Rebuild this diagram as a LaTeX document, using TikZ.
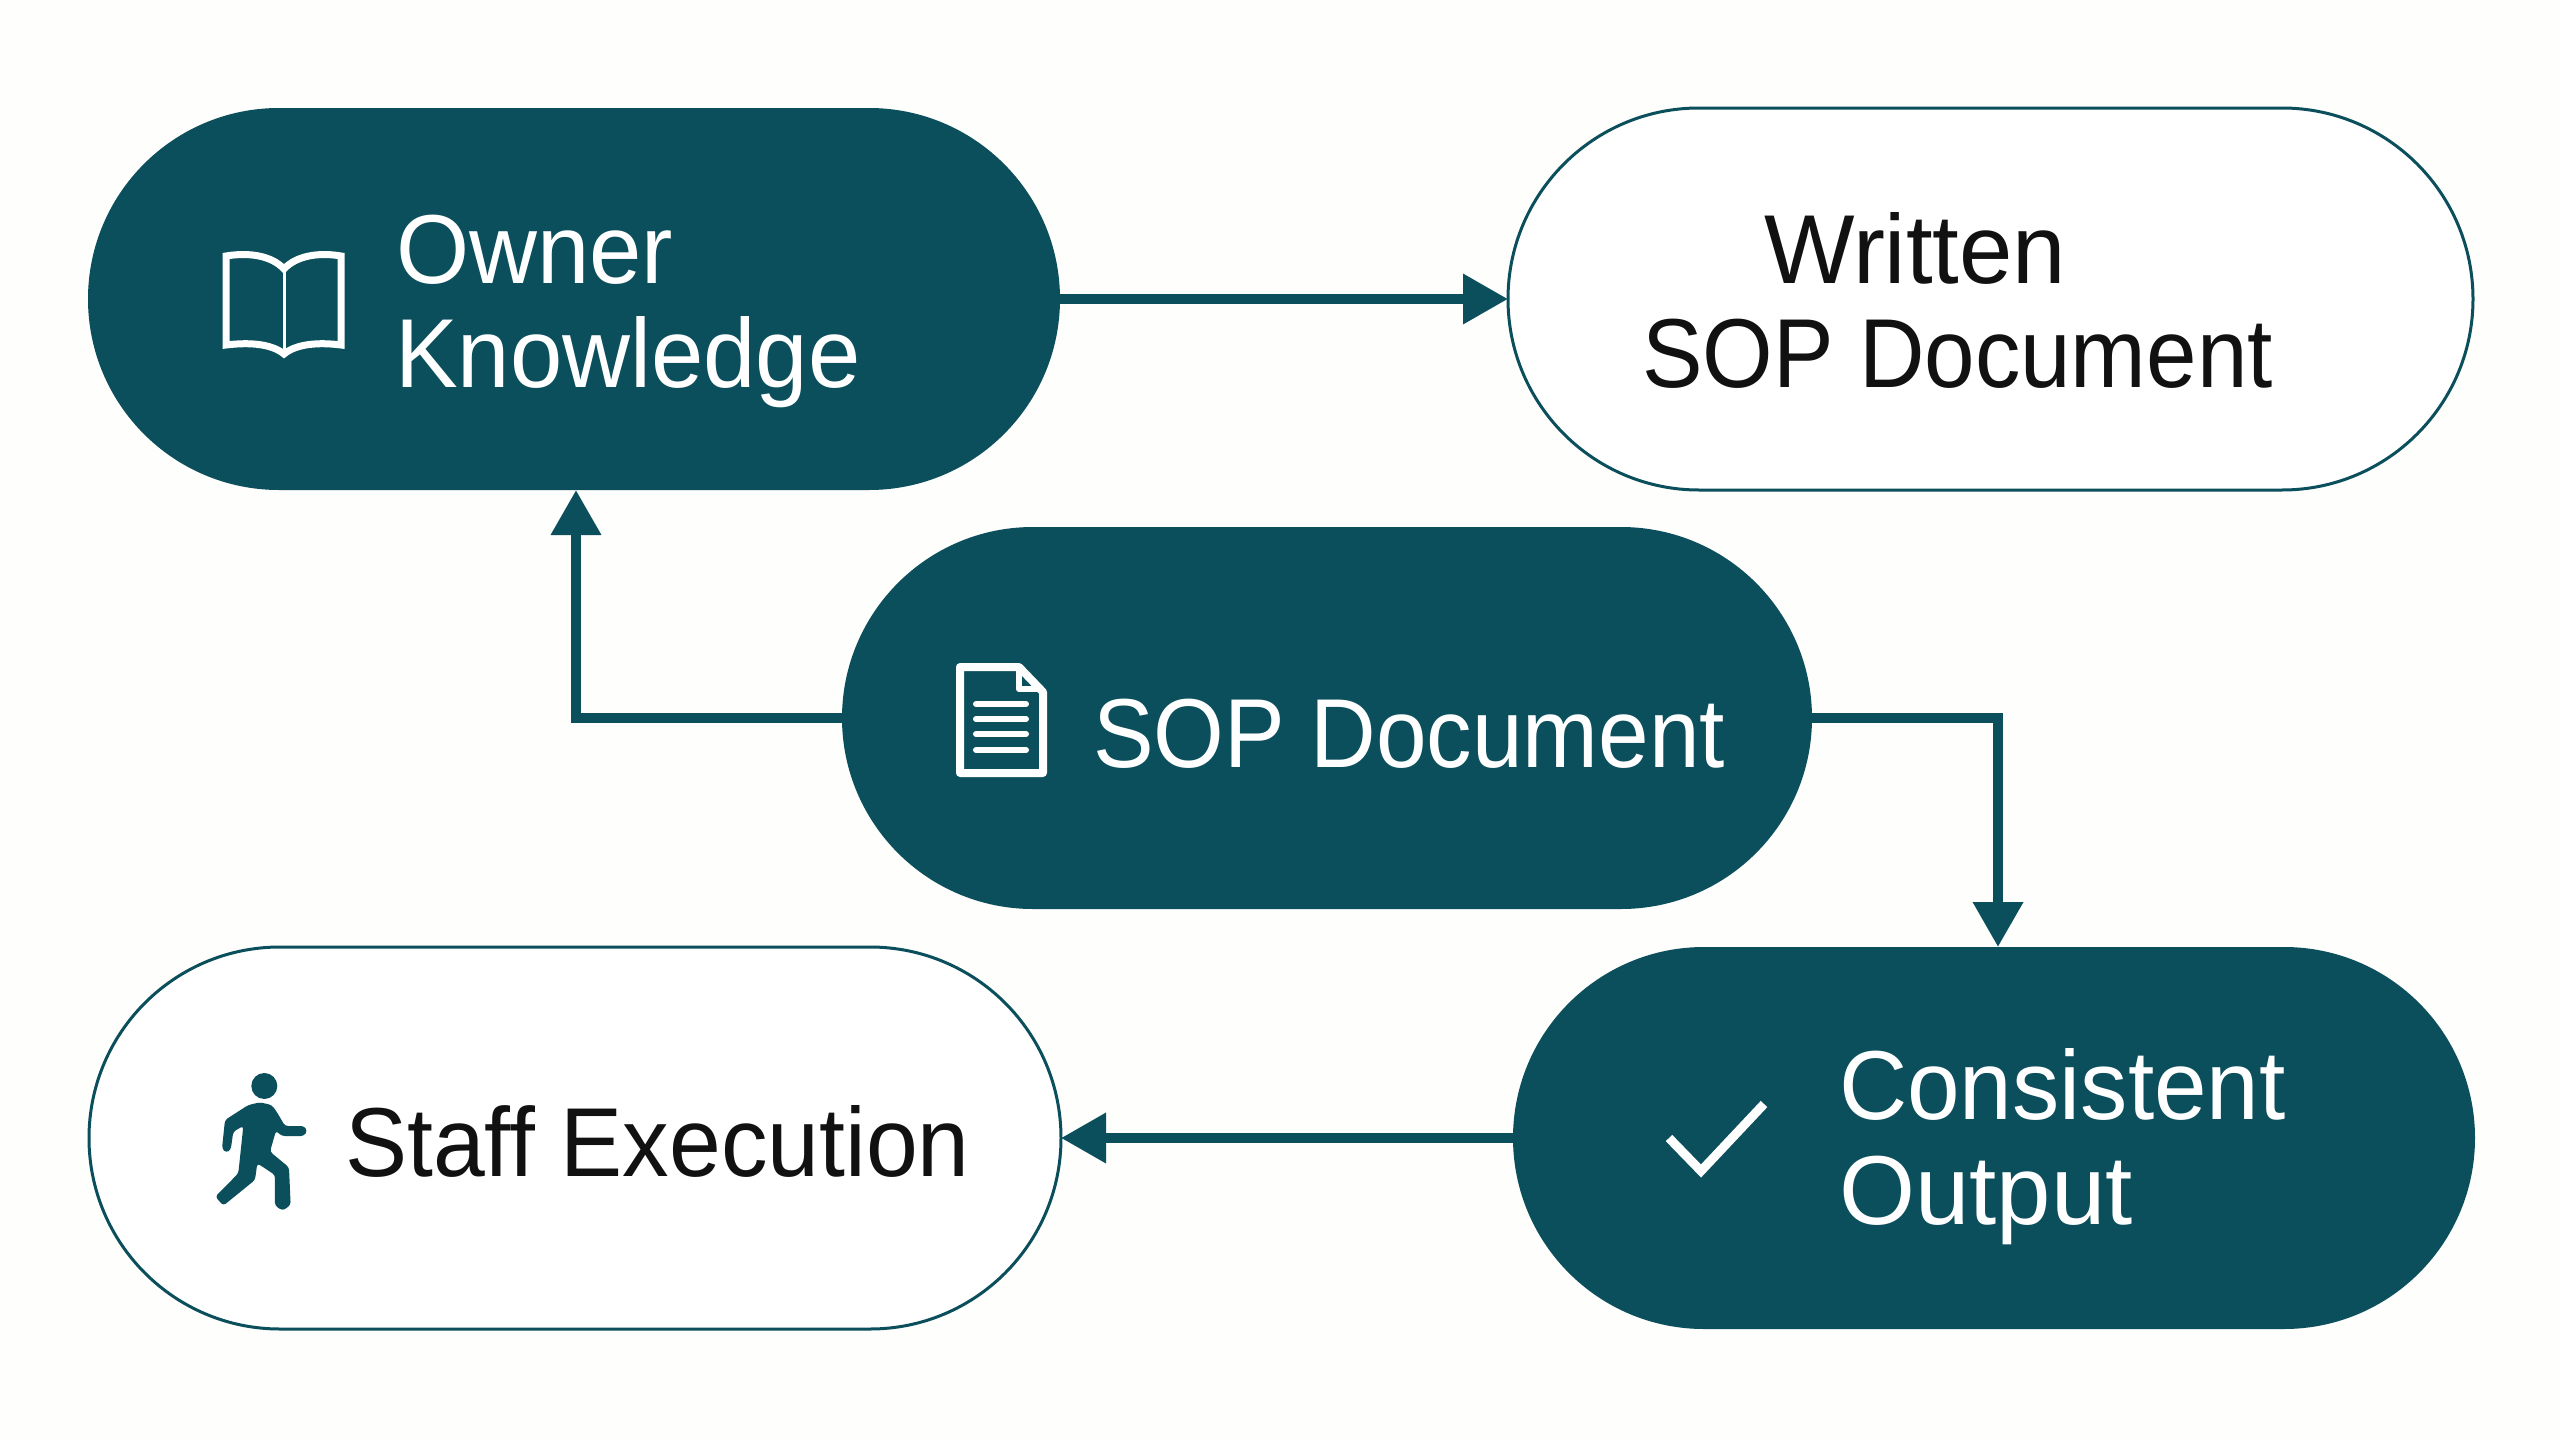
\documentclass[tikz,border=0pt]{standalone}
\usepackage{fontspec}
\setmainfont[FakeStretch=0.95]{Liberation Sans}
\usetikzlibrary{%
  shapes.misc,
  arrows.meta%
}
\definecolor{sopteal}{HTML}{0B4F5C}
\definecolor{sopink}{HTML}{111111}
\definecolor{sopback}{HTML}{FEFEFC}
\tikzset{
  pill/.style={
    rounded rectangle,
    minimum width=#1,
    minimum height=382pt,
    inner sep=0pt,
    outer sep=0pt
  },
  darkpill/.style={
    pill=#1,
    fill=sopteal
  },
  lightpill/.style={
    pill=#1,
    draw=sopteal,
    line width=3pt,
    fill=white
  },
  pilltext/.style={
    #1,
    font=\fontsize{98pt}{105pt}\selectfont,
    inner sep=0pt,
    anchor=base west,
    align=left
  },
  flow/.style={
    draw=sopteal,
    line width=10pt,
    -{Triangle[length=45pt,width=48pt]}
  },
  whiteicon/.style={
    draw=white,
    line width=#1
  }
}
\begin{document}
\begin{tikzpicture}[x=1pt,y=-1pt]
\fill[sopback] (0,0) rectangle (2560,1440);
\useasboundingbox (0,0) rectangle (2560,1440);
\node[darkpill=972pt] (owner) at (574,299) {};
\node[lightpill=965pt] (written) at (1990.5,299) {};
\node[darkpill=970pt] (sop) at (1327,718) {};
\node[darkpill=962pt] (output) at (1994,1138) {};
\node[lightpill=972pt] (staff) at (575,1138) {};
\draw[flow] (owner) -- (written);
\draw[flow] (sop.west) -| ([xshift=2pt]owner.south);
\draw[flow] (sop.east) -| ([xshift=4pt]output.north);
\draw[flow] (output) -- (staff);
\node[pilltext=white,xscale=1.01] (ownertext) at (396,283) {Owner};
\node[pilltext=white,xscale=1.01] (knowledgetext) at (395,387) {Knowledge};
\node[pilltext=sopink,xscale=1.03] (writtentext) at (1764,283) {Written};
\node[pilltext=sopink,xscale=.975] (soptext) at (1642,387) {SOP Document};
\node[pilltext=white,xscale=.977] (middletext) at (1093,767) {SOP Document};
\node[pilltext=white,xscale=1.015] (consistenttext) at (1839,1119) {Consistent};
\node[pilltext=white,xscale=1.05] (outputtext) at (1839,1224) {Output};
\node[pilltext=sopink] (stafftext) at (345,1176) {Staff Execution};
\draw[whiteicon=7pt,line join=miter] (226,256) .. controls (250,252) and (272,256) .. (284,269)
  .. controls (296,256) and (318,252) .. (341,256) -- (341,345)
  .. controls (318,342) and (296,344) .. (284,354)
  .. controls (272,344) and (250,342) .. (226,345) -- cycle;
\draw[whiteicon=3pt] (284,269) -- (284,352);
\draw[whiteicon=8pt,line join=round] (960,667) -- (1019,667) -- (1043,692) -- (1043,773) -- (960,773) -- cycle;
\draw[whiteicon=6pt,line join=round] (1019,667) -- (1019,689) -- (1043,689);
\foreach \height in {704,719,734,750} {
  \draw[whiteicon=6pt,line cap=round] (976,\height) -- (1026,\height);
}
\draw[whiteicon=9pt,line cap=butt,miter limit=4] (1669,1138) -- (1701,1171) -- (1764,1104);
\begin{scope}[shift={(180,1040)},x=.3333pt,y=-.3333pt]
\fill[sopteal] (253,138) circle[radius=39];
\fill[sopteal,rounded corners=3pt] (205,195) -- (240,187) -- (275,195) -- (290,215) -- (315,258) -- (372,258) -- (382,272) -- (372,288) -- (305,288) -- (288,272) -- (270,335) -- (327,382) -- (332,495) -- (308,512) -- (285,497) -- (285,405) -- (232,370) -- (225,420) -- (130,497) -- (106,470) -- (175,400) -- (190,258) -- (160,275) -- (152,330) -- (138,338) -- (126,326) -- (135,240) -- cycle;
\end{scope}
\end{tikzpicture}
\end{document}
